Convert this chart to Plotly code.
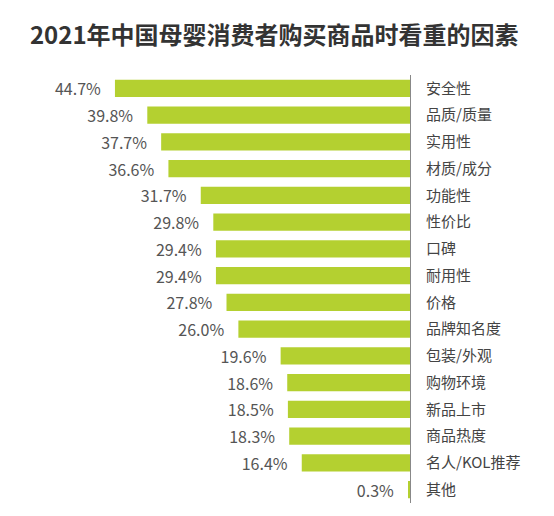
import plotly.graph_objects as go

categories = ["安全性", "品质/质量", "实用性", "材质/成分", "功能性", "性价比", "口碑", "耐用性",
              "价格", "品牌知名度", "包装/外观", "购物环境", "新品上市", "商品热度", "名人/KOL推荐", "其他"]
values = [44.7, 39.8, 37.7, 36.6, 31.7, 29.8, 29.4, 29.4, 27.8, 26.0, 19.6, 18.6, 18.5, 18.3, 16.4, 0.3]
labels = [f"{v:.1f}%\u2002\u2009" for v in values]

fig = go.Figure(go.Bar(
    x=values, y=categories, orientation="h",
    marker=dict(color="#b4d030", line=dict(width=0)),
    text=labels, textposition="outside", cliponaxis=False, constraintext="none",
    textfont=dict(size=16, color="#555555", family="Noto Sans CJK SC"),
    width=0.64,
))

fig.update_layout(
    width=554, height=516,
    paper_bgcolor="white", plot_bgcolor="white",
    margin=dict(l=10, r=144, t=75, b=13),
    showlegend=False,
    title=dict(text="<b>2021年中国母婴消费者购买商品时看重的因素</b>",
               x=0.495, xref="container", xanchor="center", y=1 - 36/516, yanchor="middle",
               font=dict(size=24, color="#333333", family="Noto Sans CJK SC")),
    font=dict(family="Noto Sans CJK SC"),
)
fig.update_xaxes(range=[60.6, 0], showgrid=False, zeroline=False, showticklabels=False, showline=False)
fig.update_yaxes(side="right", autorange="reversed", showgrid=False, zeroline=False,
                 showline=True, linecolor="#888888", linewidth=1,
                 ticks="", ticklabelstandoff=12,
                 tickfont=dict(size=15, color="#444444", family="Noto Sans CJK SC"))

fig.write_html("out.html")
